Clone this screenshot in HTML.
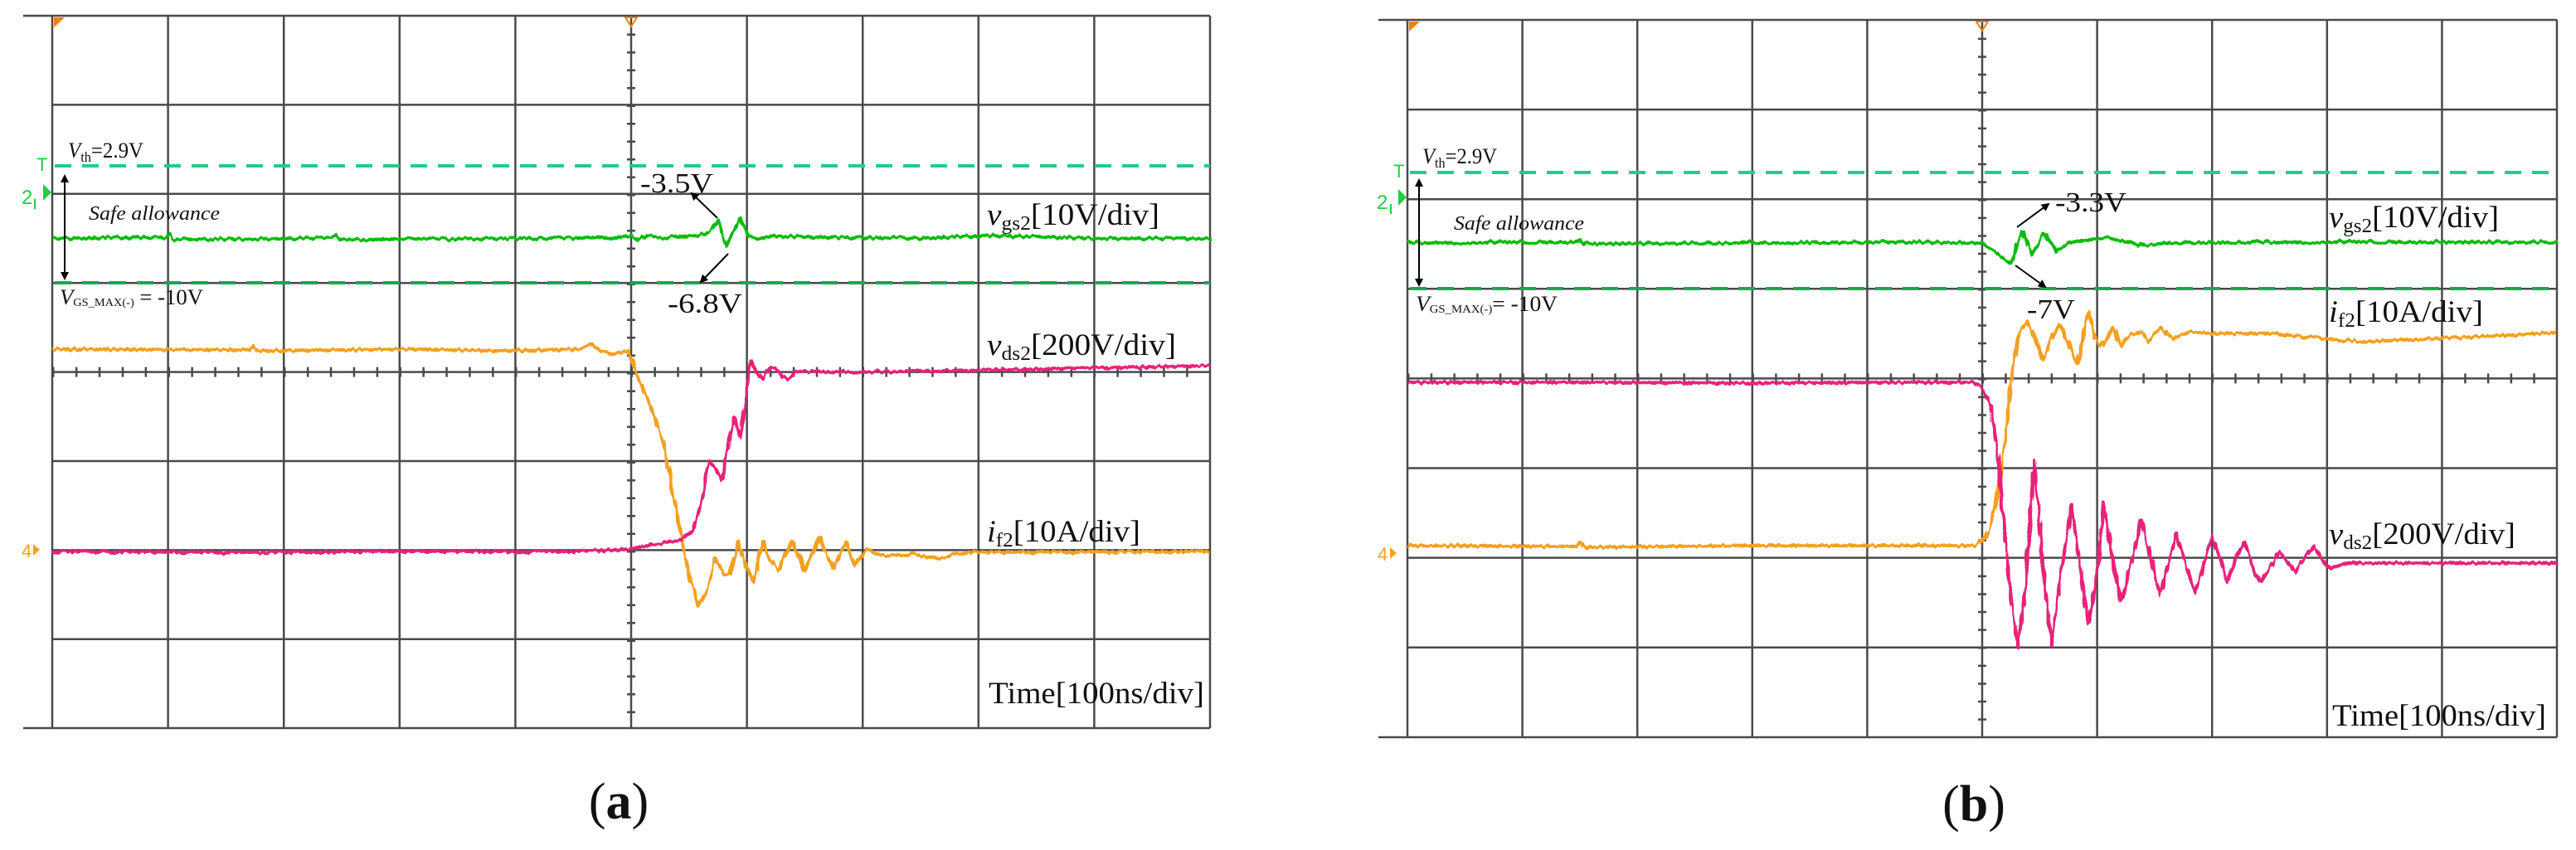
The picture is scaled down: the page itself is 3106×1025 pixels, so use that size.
<!DOCTYPE html>
<html><head><meta charset="utf-8"><style>html,body{margin:0;padding:0;background:#fff}svg{display:block}</style></head>
<body>
<svg width="3106" height="1025" viewBox="0 0 3106 1025" xmlns="http://www.w3.org/2000/svg" font-family="'Liberation Serif', serif">
<defs>
<filter id="nz" x="-1%" y="-10%" width="102%" height="120%">
<feTurbulence type="fractalNoise" baseFrequency="0.25 0.05" numOctaves="1" seed="3" result="t"/>
<feDisplacementMap in="SourceGraphic" in2="t" scale="7" xChannelSelector="R" yChannelSelector="G"/>
</filter>
<marker id="ah" markerWidth="10" markerHeight="10" refX="8" refY="5" orient="auto" markerUnits="userSpaceOnUse"><path d="M0,0 L10,5 L0,10 z" fill="#000"/></marker>
</defs>
<rect width="3106" height="1025" fill="#fff"/>
<!-- PANEL A GRID -->
<g stroke="#4a4a4a" stroke-width="2.5" fill="none">
<line x1="28" y1="19" x2="1459" y2="19"/><line x1="28" y1="878" x2="1459" y2="878"/>
<line x1="63" y1="126.4" x2="1459" y2="126.4"/><line x1="63" y1="233.8" x2="1459" y2="233.8"/>
<line x1="63" y1="341.2" x2="1459" y2="341.2"/><line x1="63" y1="448.6" x2="1459" y2="448.6"/>
<line x1="63" y1="556" x2="1459" y2="556"/><line x1="63" y1="663.4" x2="1459" y2="663.4"/>
<line x1="63" y1="770.8" x2="1459" y2="770.8"/>
<line x1="63" y1="19" x2="63" y2="878"/><line x1="202.6" y1="19" x2="202.6" y2="878"/>
<line x1="342.2" y1="19" x2="342.2" y2="878"/><line x1="481.8" y1="19" x2="481.8" y2="878"/>
<line x1="621.4" y1="19" x2="621.4" y2="878"/><line x1="761" y1="19" x2="761" y2="878"/>
<line x1="900.6" y1="19" x2="900.6" y2="878"/><line x1="1040.2" y1="19" x2="1040.2" y2="878"/>
<line x1="1179.8" y1="19" x2="1179.8" y2="878"/><line x1="1319.4" y1="19" x2="1319.4" y2="878"/>
<line x1="1459" y1="19" x2="1459" y2="878"/>
<line x1="63" y1="448.6" x2="1459" y2="448.6" stroke-width="12" stroke-dasharray="2.5 25.4"/>
<line x1="761" y1="19" x2="761" y2="878" stroke-width="10" stroke-dasharray="2.5 19"/>
</g>
<!-- PANEL B GRID -->
<g stroke="#4a4a4a" stroke-width="2.5" fill="none">
<line x1="1662" y1="24" x2="3083" y2="24"/><line x1="1662" y1="889" x2="3083" y2="889"/>
<line x1="1697" y1="132.1" x2="3083" y2="132.1"/><line x1="1697" y1="240.2" x2="3083" y2="240.2"/>
<line x1="1697" y1="348.3" x2="3083" y2="348.3"/><line x1="1697" y1="456.4" x2="3083" y2="456.4"/>
<line x1="1697" y1="564.5" x2="3083" y2="564.5"/><line x1="1697" y1="672.6" x2="3083" y2="672.6"/>
<line x1="1697" y1="780.7" x2="3083" y2="780.7"/>
<line x1="1697" y1="24" x2="1697" y2="889"/><line x1="1835.6" y1="24" x2="1835.6" y2="889"/>
<line x1="1974.2" y1="24" x2="1974.2" y2="889"/><line x1="2112.8" y1="24" x2="2112.8" y2="889"/>
<line x1="2251.4" y1="24" x2="2251.4" y2="889"/><line x1="2390" y1="24" x2="2390" y2="889"/>
<line x1="2528.6" y1="24" x2="2528.6" y2="889"/><line x1="2667.2" y1="24" x2="2667.2" y2="889"/>
<line x1="2805.8" y1="24" x2="2805.8" y2="889"/><line x1="2944.4" y1="24" x2="2944.4" y2="889"/>
<line x1="3083" y1="24" x2="3083" y2="889"/>
<line x1="1697" y1="456.4" x2="3083" y2="456.4" stroke-width="12" stroke-dasharray="2.5 25.2"/>
<line x1="2390" y1="24" x2="2390" y2="889" stroke-width="10" stroke-dasharray="2.5 19.1"/>
</g>
<!-- dashed threshold lines -->
<g stroke-width="4" stroke-dasharray="20 13">
<line x1="66" y1="200" x2="1459" y2="200" stroke="#22cc88"/>
<line x1="66" y1="341" x2="1459" y2="341" stroke="#11aa55"/>
<line x1="1700" y1="208" x2="3083" y2="208" stroke="#22cc88"/>
<line x1="1700" y1="348" x2="3083" y2="348" stroke="#11aa55"/>
</g>
<!-- traces A -->
<g fill="none" stroke-width="4" stroke-linejoin="round" filter="url(#nz)">
<polyline stroke="#11bb11" points="63,287 200,286 205,283 210,289 400,287 405,284 410,289 700,287 740,286 761,284 770,290 780,284 800,288 820,284 840,285 855,280 866,266 876,297 884,280 892,264 902,284 915,288 930,285 1100,287 1200,284 1300,287 1459,288"/>
<polyline stroke="#f5a020" points="63,421 300,422 305,418 310,423 500,421 600,423 700,421 712,414 725,424 740,426 758,423 770,457 785,490 800,535 820,640 832,700 843,731 853,710 862,672 871,692 880,692 890,653 899,680 908,701 920,653 929,675 938,688 955,653 963,670 970,688 988,649 997,670 1005,685 1020,653 1030,682 1045,662 1060,670 1100,668 1130,674 1160,666 1459,665"/>
<polyline stroke="#e8207a" points="63,665 300,666 500,665 700,665 761,662 790,656 820,652 835,640 845,610 855,555 862,565 870,578 885,503 893,528 905,434 912,448 920,457 928,444 935,444 943,455 950,457 960,448 980,448 1100,448 1200,446 1459,441"/>
</g>
<!-- traces B -->
<g fill="none" stroke-width="4" stroke-linejoin="round" filter="url(#nz)">
<polyline stroke="#11bb11" points="1697,293 1900,292 1905,288 1910,294 2100,293 2300,292 2390,293 2400,300 2425,318 2438,279 2450,307 2465,281 2480,303 2495,292 2540,287 2580,296 2620,293 2800,292 3083,292"/>
<polyline stroke="#f5a020" points="1697,658 1900,659 1905,654 1910,660 2100,658 2300,658 2380,658 2390,652 2398,640 2408,600 2416,540 2424,470 2430,424 2438,395 2445,388 2455,410 2463,434 2475,405 2484,392 2495,415 2505,439 2518,375 2525,405 2533,418 2548,395 2558,418 2568,404 2582,400 2590,412 2605,395 2620,408 2640,400 2660,402 2740,402 2800,408 2850,412 2900,410 2950,408 3083,401"/>
<polyline stroke="#e8207a" points="1697,461 1900,461 2100,462 2300,461 2380,461 2392,470 2400,490 2408,540 2415,620 2424,718 2433,780 2443,700 2453,555 2463,680 2474,778 2485,690 2498,610 2510,700 2518,751 2530,680 2536,606 2548,680 2558,725 2572,670 2582,627 2595,680 2604,718 2617,670 2624,643 2638,690 2647,715 2660,670 2667,646 2680,680 2685,702 2698,670 2706,653 2718,690 2726,702 2740,680 2748,666 2760,680 2768,689 2780,670 2790,659 2800,675 2808,685 2830,679 3083,679"/>
</g>
<!-- markers -->
<g>
<polygon points="65,21 78,21 65,33" fill="#f08010"/>
<polygon points="754,21 768,21 761,32" fill="none" stroke="#f08010" stroke-width="2"/>
<polygon points="1699,26 1712,26 1699,38" fill="#f08010"/>
<polygon points="2383,26 2397,26 2390,37" fill="none" stroke="#f08010" stroke-width="2"/>
<g fill="#22cc44" font-family="'Liberation Sans',sans-serif">
<text x="44" y="206" font-size="22">T</text><text x="26" y="246" font-size="24">2</text>
<polygon points="52,222 62,232 52,242" /><line x1="42" y1="240" x2="42" y2="252" stroke="#22cc44" stroke-width="2"/>
<text x="1680" y="214" font-size="22">T</text><text x="1660" y="252" font-size="24">2</text>
<polygon points="1686,228 1696,238 1686,248"/><line x1="1677" y1="246" x2="1677" y2="258" stroke="#22cc44" stroke-width="2"/>
</g>
<g fill="#f5a020" font-family="'Liberation Sans',sans-serif">
<text x="26" y="672" font-size="22">4</text><polygon points="40,656 48,663 40,670"/>
<text x="1661" y="676" font-size="22">4</text><polygon points="1676,660 1684,667 1676,674"/>
</g>
</g>
<!-- arrows -->
<g stroke="#000" stroke-width="2" fill="none">
<line x1="78" y1="330" x2="78" y2="212" marker-end="url(#ah)"/><line x1="78" y1="212" x2="78" y2="336" marker-end="url(#ah)"/>
<line x1="1711" y1="340" x2="1711" y2="217" marker-end="url(#ah)"/><line x1="1711" y1="217" x2="1711" y2="344" marker-end="url(#ah)"/>
<line x1="865" y1="263" x2="834" y2="233" marker-end="url(#ah)"/>
<line x1="878" y1="306" x2="845" y2="340" marker-end="url(#ah)"/>
<line x1="2432" y1="274" x2="2470" y2="246" marker-end="url(#ah)"/>
<line x1="2430" y1="320" x2="2466" y2="346" marker-end="url(#ah)"/>
</g>
<!-- labels A -->
<g fill="#111">
<text x="82" y="190" font-size="26" textLength="91" lengthAdjust="spacingAndGlyphs"><tspan font-style="italic">V</tspan><tspan font-size="17" dy="5">th</tspan><tspan dy="-5">=2.9V</tspan></text>
<text x="107" y="265" font-size="24" font-style="italic" textLength="158" lengthAdjust="spacingAndGlyphs">Safe allowance</text>
<text x="72" y="367" font-size="26" textLength="173" lengthAdjust="spacingAndGlyphs"><tspan font-style="italic">V</tspan><tspan font-size="14" dy="2">GS_MAX(-)</tspan><tspan dy="-2"> = -10V</tspan></text>
<text x="772" y="232" font-size="34" textLength="88" lengthAdjust="spacingAndGlyphs">-3.5V</text>
<text x="805" y="377" font-size="34" textLength="90" lengthAdjust="spacingAndGlyphs">-6.8V</text>
<text x="1190" y="271" font-size="37" textLength="208" lengthAdjust="spacingAndGlyphs"><tspan font-style="italic">v</tspan><tspan font-size="24" dy="6">gs2</tspan><tspan dy="-6">[10V/div]</tspan></text>
<text x="1190" y="428" font-size="37" textLength="228" lengthAdjust="spacingAndGlyphs"><tspan font-style="italic">v</tspan><tspan font-size="24" dy="6">ds2</tspan><tspan dy="-6">[200V/div]</tspan></text>
<text x="1190" y="653" font-size="37" textLength="185" lengthAdjust="spacingAndGlyphs"><tspan font-style="italic">i</tspan><tspan font-size="24" dy="6">f2</tspan><tspan dy="-6">[10A/div]</tspan></text>
<text x="1192" y="848" font-size="37" textLength="260" lengthAdjust="spacingAndGlyphs">Time[100ns/div]</text>
<text x="746" y="987" font-size="62" text-anchor="middle">(<tspan font-weight="bold">a</tspan>)</text>
</g>
<!-- labels B -->
<g fill="#111">
<text x="1715" y="197" font-size="26" textLength="90" lengthAdjust="spacingAndGlyphs"><tspan font-style="italic">V</tspan><tspan font-size="17" dy="5">th</tspan><tspan dy="-5">=2.9V</tspan></text>
<text x="1753" y="277" font-size="24" font-style="italic" textLength="157" lengthAdjust="spacingAndGlyphs">Safe allowance</text>
<text x="1707" y="375" font-size="26" textLength="171" lengthAdjust="spacingAndGlyphs"><tspan font-style="italic">V</tspan><tspan font-size="14" dy="2">GS_MAX(-)</tspan><tspan dy="-2">= -10V</tspan></text>
<text x="2478" y="255" font-size="34" textLength="86" lengthAdjust="spacingAndGlyphs">-3.3V</text>
<text x="2444" y="384" font-size="34" textLength="58" lengthAdjust="spacingAndGlyphs">-7V</text>
<text x="2808" y="274" font-size="37" textLength="205" lengthAdjust="spacingAndGlyphs"><tspan font-style="italic">v</tspan><tspan font-size="24" dy="6">gs2</tspan><tspan dy="-6">[10V/div]</tspan></text>
<text x="2808" y="388" font-size="37" textLength="186" lengthAdjust="spacingAndGlyphs"><tspan font-style="italic">i</tspan><tspan font-size="24" dy="6">f2</tspan><tspan dy="-6">[10A/div]</tspan></text>
<text x="2808" y="656" font-size="37" textLength="225" lengthAdjust="spacingAndGlyphs"><tspan font-style="italic">v</tspan><tspan font-size="24" dy="6">ds2</tspan><tspan dy="-6">[200V/div]</tspan></text>
<text x="2812" y="875" font-size="37" textLength="258" lengthAdjust="spacingAndGlyphs">Time[100ns/div]</text>
<text x="2380" y="990" font-size="62" text-anchor="middle">(<tspan font-weight="bold">b</tspan>)</text>
</g>
</svg>
</body></html>
